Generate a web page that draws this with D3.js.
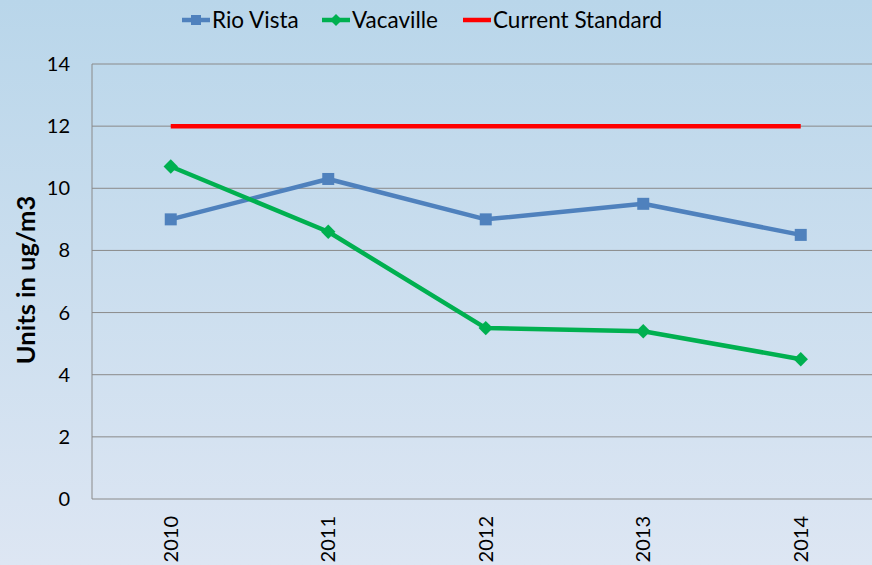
<!DOCTYPE html>
<html>
<head>
<script src="https://d3js.org/d3.v7.min.js"></script>
<style>
  body { margin: 0; padding: 0; }
  svg { display: block; font-family: Lato, "Open Sans", sans-serif; }
</style>
</head>
<body>
<script>
var years = ["2010", "2011", "2012", "2013", "2014"];
var rioVista = [9.0, 10.3, 9.0, 9.5, 8.5];
var vacaville = [10.7, 8.6, 5.5, 5.4, 4.5];
var standard = [12, 12, 12, 12, 12];
var yTicks = [0, 2, 4, 6, 8, 10, 12, 14];

var W = 872, H = 565;
var margin = {top: 64, left: 92, bottom: 66};
var plotW = 787.5, plotH = H - margin.top - margin.bottom;

var svg = d3.select("body").append("svg")
    .attr("width", W).attr("height", H);

var grad = svg.append("defs").append("linearGradient")
    .attr("id", "bg").attr("x1", 0).attr("y1", 0).attr("x2", 0).attr("y2", 1);
grad.append("stop").attr("offset", "0%").attr("stop-color", "#b9d6ea");
grad.append("stop").attr("offset", "100%").attr("stop-color", "#dde6f3");

svg.append("rect").attr("width", W).attr("height", H).attr("fill", "url(#bg)");

var x = d3.scaleBand().domain(years).range([margin.left, margin.left + plotW]);
var y = d3.scaleLinear().domain([0, 14]).range([margin.top + plotH, margin.top]);

// gridlines
svg.append("g").selectAll("line").data(yTicks).enter().append("line")
    .attr("x1", margin.left).attr("x2", W)
    .attr("y1", function(d) { return y(d); }).attr("y2", function(d) { return y(d); })
    .attr("stroke", "#8a8a8a").attr("stroke-width", 1);

svg.append("line")
    .attr("x1", margin.left).attr("x2", margin.left)
    .attr("y1", y(14)).attr("y2", y(0))
    .attr("stroke", "#8a8a8a");

// y tick labels
svg.append("g").selectAll("text").data(yTicks).enter().append("text")
    .attr("x", 70).attr("y", function(d) { return y(d); })
    .attr("dy", "0.35em").attr("text-anchor", "end")
    .attr("font-size", 20).attr("fill", "#000")
    .text(function(d) { return d; });

// x tick labels
svg.append("g").selectAll("text").data(years).enter().append("text")
    .attr("transform", function(d) {
      return "translate(" + (x(d) + x.bandwidth() / 2) + ",516) rotate(-90)";
    })
    .attr("dy", "0.35em").attr("text-anchor", "end")
    .attr("font-size", 20).attr("fill", "#000")
    .text(function(d) { return d; });

svg.append("text")
    .attr("transform", "translate(26,280) rotate(-90)")
    .attr("dy", "0.35em").attr("text-anchor", "middle")
    .attr("font-size", 25.5).attr("font-weight", "bold")
    .text("Units in ug/m3");

var line = d3.line()
    .x(function(d, i) { return x(years[i]) + x.bandwidth() / 2; })
    .y(function(d) { return y(d); });

var series = [
  {name: "Rio Vista", values: rioVista, color: "#4f81bd", marker: "square"},
  {name: "Vacaville", values: vacaville, color: "#00b050", marker: "diamond"},
  {name: "Current Standard", values: standard, color: "#ff0000", marker: null}
];

function drawMarker(g, type, color, cx, cy, s) {
  if (type === "square") {
    g.append("rect").attr("x", cx - s / 2).attr("y", cy - s / 2)
      .attr("width", s).attr("height", s).attr("fill", color);
  } else if (type === "diamond") {
    var h = s * 0.6;
    g.append("path")
      .attr("d", "M" + cx + "," + (cy - h) + "L" + (cx + h) + "," + cy +
                 "L" + cx + "," + (cy + h) + "L" + (cx - h) + "," + cy + "Z")
      .attr("fill", color);
  }
}

// draw standard first, then others
[series[2], series[0], series[1]].forEach(function(s) {
  var g = svg.append("g");
  g.append("path").datum(s.values)
    .attr("d", line).attr("fill", "none")
    .attr("stroke", s.color).attr("stroke-width", 4.5)
    .attr("stroke-linejoin", "round");
  if (s.marker) {
    s.values.forEach(function(v, i) {
      drawMarker(g, s.marker, s.color, x(years[i]) + x.bandwidth() / 2, y(v), 12);
    });
  }
});

// legend
var legendX = [182, 322, 463];
series.forEach(function(s, i) {
  var g = svg.append("g").attr("transform", "translate(" + legendX[i] + ",20)");
  g.append("line").attr("x1", 0).attr("x2", 28).attr("y1", 0).attr("y2", 0)
    .attr("stroke", s.color).attr("stroke-width", 4.5);
  if (s.marker) drawMarker(g, s.marker, s.color, 14, 0, 10);
  g.append("text").attr("x", 30).attr("dy", "0.35em")
    .attr("font-size", 22.5).attr("fill", "#000").text(s.name);
});
</script>
</body>
</html>
